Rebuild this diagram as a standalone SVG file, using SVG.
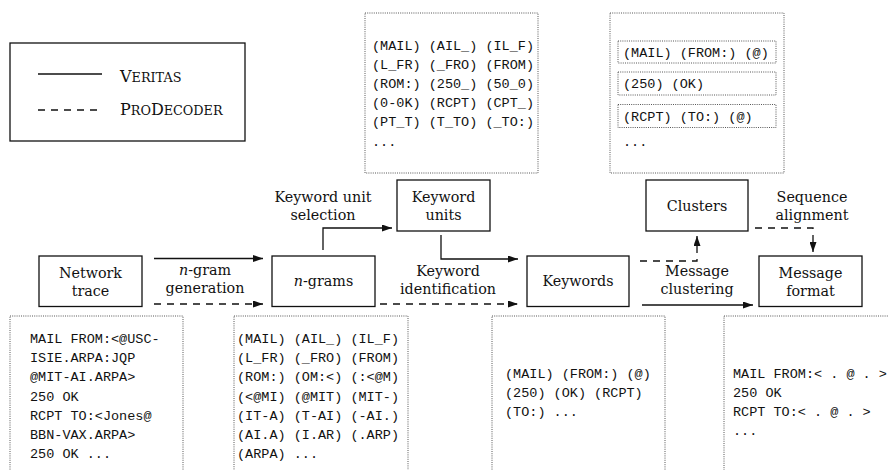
<svg xmlns="http://www.w3.org/2000/svg" width="889" height="470" viewBox="0 0 889 470">
<defs>
<marker id="ah" viewBox="0 0 10 7" refX="10" refY="3.5" markerWidth="10" markerHeight="7" markerUnits="userSpaceOnUse" orient="auto">
<path d="M0,0 L10,3.5 L0,7 z" fill="#111"/>
</marker>
<style>
.box{fill:#fff;stroke:#111;stroke-width:1.3}
.dot{fill:none;stroke:#444;stroke-width:0.9;stroke-dasharray:1 1.2}
.lbl{font-family:"DejaVu Serif",serif;font-size:14.3px;fill:#111;text-anchor:middle}
.mono{font-family:"Liberation Mono","DejaVu Sans Mono",monospace;font-size:13.5px;fill:#111;white-space:pre}
.solid{fill:none;stroke:#111;stroke-width:1.3;marker-end:url(#ah)}
.dash{fill:none;stroke:#111;stroke-width:1.3;stroke-dasharray:7 6;marker-end:url(#ah)}
.sc{font-family:"DejaVu Serif",serif;fill:#111}
</style>
</defs>
<rect width="889" height="470" fill="#fff"/>

<g id="legend">
<rect x="10" y="43" width="235" height="98" fill="none" stroke="#111" stroke-width="1.3"/>
<line x1="38" y1="74" x2="102" y2="74" stroke="#111" stroke-width="1.3"/>
<line x1="38" y1="110" x2="102" y2="110" stroke="#111" stroke-width="1.3" stroke-dasharray="7 6"/>
<text class="sc" x="120" y="81.5"><tspan font-size="16">V</tspan><tspan font-size="12.8">ERITAS</tspan></text>
<text class="sc" x="120" y="115"><tspan font-size="16">P</tspan><tspan font-size="12.8">RO</tspan><tspan font-size="16">D</tspan><tspan font-size="12.8">ECODER</tspan></text>
</g>

<g id="units-list">
<rect class="dot" x="365" y="13" width="173" height="160"/>
<text class="mono" x="372" y="49.5">(MAIL) (AIL_) (IL_F)</text>
<text class="mono" x="372" y="68.7">(L_FR) (_FRO) (FROM)</text>
<text class="mono" x="372" y="87.9">(ROM:) (250_) (50_0)</text>
<text class="mono" x="372" y="107.1">(0-0K) (RCPT) (CPT_)</text>
<text class="mono" x="372" y="126.3">(PT_T) (T_TO) (_TO:)</text>
<text class="mono" x="372" y="145.5">...</text>
</g>

<g id="clusters-list">
<rect class="dot" x="610" y="13" width="174" height="160"/>
<rect class="dot" x="618" y="41" width="158" height="22"/>
<rect class="dot" x="618" y="72" width="158" height="23"/>
<rect class="dot" x="618" y="104.5" width="158" height="23"/>
<text class="mono" x="623" y="56.5">(MAIL) (FROM:) (@)</text>
<text class="mono" x="623" y="88">(250) (OK)</text>
<text class="mono" x="623" y="120.5">(RCPT) (TO:) (@)</text>
<text class="mono" x="623" y="145.5">...</text>
</g>

<g id="trace-list">
<rect class="dot" x="10" y="316" width="173" height="170"/>
<text class="mono" x="30" y="343">MAIL FROM:&lt;@USC-</text>
<text class="mono" x="30" y="362.2">ISIE.ARPA:JQP</text>
<text class="mono" x="30" y="381.4">@MIT-AI.ARPA&gt;</text>
<text class="mono" x="30" y="400.6">250 OK</text>
<text class="mono" x="30" y="419.8">RCPT TO:&lt;Jones@</text>
<text class="mono" x="30" y="439">BBN-VAX.ARPA&gt;</text>
<text class="mono" x="30" y="458.2">250 OK ...</text>
</g>

<g id="ngrams-list">
<rect class="dot" x="234" y="316" width="174" height="170"/>
<text class="mono" x="237" y="343">(MAIL) (AIL_) (IL_F)</text>
<text class="mono" x="237" y="362.2">(L_FR) (_FRO) (FROM)</text>
<text class="mono" x="237" y="381.4">(ROM:) (OM:&lt;) (:&lt;@M)</text>
<text class="mono" x="237" y="400.6">(&lt;@MI) (@MIT) (MIT-)</text>
<text class="mono" x="237" y="419.8">(IT-A) (T-AI) (-AI.)</text>
<text class="mono" x="237" y="439">(AI.A) (I.AR) (.ARP)</text>
<text class="mono" x="237" y="458.2">(ARPA) ...</text>
</g>

<g id="keywords-list">
<rect class="dot" x="492" y="316" width="173" height="170"/>
<text class="mono" x="505" y="377.5">(MAIL) (FROM:) (@)</text>
<text class="mono" x="505" y="396.7">(250) (OK) (RCPT)</text>
<text class="mono" x="505" y="415.9">(TO:) ...</text>
</g>

<g id="format-list">
<rect class="dot" x="724" y="316" width="180" height="170"/>
<text class="mono" x="733" y="377.5">MAIL FROM:&lt; . @ . &gt;</text>
<text class="mono" x="733" y="396.7">250 OK</text>
<text class="mono" x="733" y="415.9">RCPT TO:&lt; . @ . &gt;</text>
<text class="mono" x="733" y="435">...</text>
</g>

<g id="network-trace">
<rect class="box" x="39" y="256" width="103" height="50.5"/>
<text class="lbl" x="90.5" y="278">Network</text>
<text class="lbl" x="90.5" y="296">trace</text>
</g>

<g id="ngrams">
<rect class="box" x="272" y="256" width="103" height="50.5"/>
<text class="lbl" x="323.5" y="286"><tspan font-style="italic">n</tspan>-grams</text>
</g>

<g id="keyword-units">
<rect class="box" x="397" y="180" width="93" height="51"/>
<text class="lbl" x="443.5" y="201.5">Keyword</text>
<text class="lbl" x="443.5" y="219.5">units</text>
</g>

<g id="keywords">
<rect class="box" x="527" y="256" width="102" height="50.5"/>
<text class="lbl" x="578" y="286">Keywords</text>
</g>

<g id="clusters">
<rect class="box" x="646" y="180" width="102" height="51"/>
<text class="lbl" x="697" y="211">Clusters</text>
</g>

<g id="message-format">
<rect class="box" x="759" y="256" width="103" height="50.5"/>
<text class="lbl" x="810.5" y="278">Message</text>
<text class="lbl" x="810.5" y="296">format</text>
</g>

<g id="connectors">
<path class="solid" d="M154,258.5 H263"/>
<path class="dash" d="M154,304 H263"/>
<path class="solid" d="M323,250 V228 H392"/>
<path class="solid" d="M441,235 V259 H518"/>
<path class="dash" d="M380,304 H518"/>
<path class="dash" d="M640,261 H697 V236"/>
<path class="solid" d="M642,305 H753"/>
<path class="dash" d="M755,228 H813 V252"/>
<text class="lbl" x="205" y="275"><tspan font-style="italic">n</tspan>-gram</text>
<text class="lbl" x="205" y="293">generation</text>
<text class="lbl" x="323" y="201.5">Keyword unit</text>
<text class="lbl" x="323" y="219.5">selection</text>
<text class="lbl" x="448" y="275.5">Keyword</text>
<text class="lbl" x="448" y="293.5">identification</text>
<text class="lbl" x="697" y="275.5">Message</text>
<text class="lbl" x="697" y="293.5">clustering</text>
<text class="lbl" x="812" y="201.5">Sequence</text>
<text class="lbl" x="812" y="219.5">alignment</text>
</g>
</svg>
